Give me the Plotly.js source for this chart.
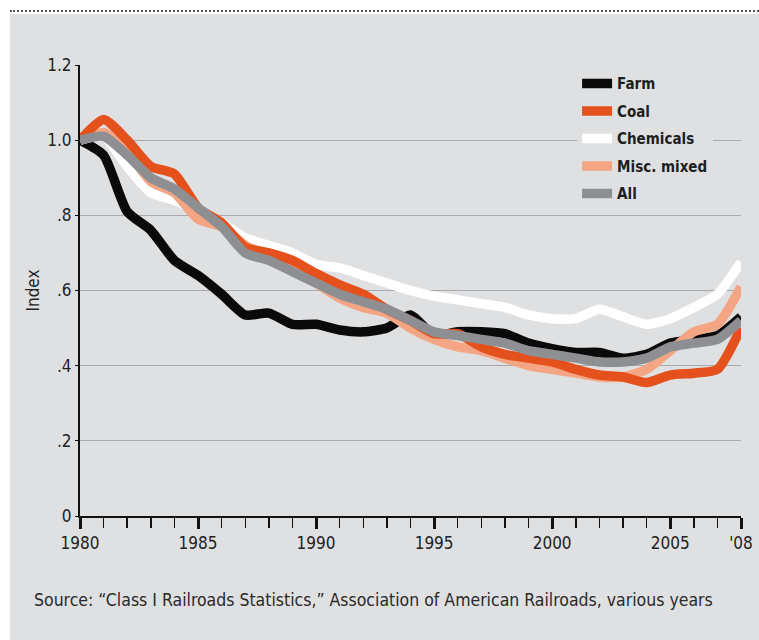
<!DOCTYPE html>
<html>
<head>
<meta charset="utf-8">
<script src="https://cdn.plot.ly/plotly-3.0.1.min.js"></script>
<style>
  html, body { margin: 0; padding: 0; background: #ffffff; }
  #wrap { position: relative; width: 759px; height: 640px; overflow: hidden; }
  #bg { position: absolute; left: 10px; top: 14px; width: 749px; height: 626px; background: #dfe0e2; }
  #dots { position: absolute; left: 10px; top: 10px; width: 749px; height: 0; border-top: 2px dotted #555; }
  #chart { position: absolute; left: 0; top: 0; width: 759px; height: 640px; }
  #chart text { font-stretch: condensed !important; }
</style>
</head>
<body>
<div id="wrap">
  <div id="bg"></div>
  <div id="dots"></div>
  <div id="chart"></div>
</div>
<script>
const years = [1980,1981,1982,1983,1984,1985,1986,1987,1988,1989,1990,1991,1992,1993,1994,1995,1996,1997,1998,1999,2000,2001,2002,2003,2004,2005,2006,2007,2008];
const farm = [1.00,0.96,0.81,0.76,0.68,0.64,0.59,0.535,0.54,0.51,0.51,0.495,0.49,0.50,0.535,0.48,0.49,0.49,0.485,0.46,0.445,0.435,0.435,0.42,0.43,0.46,0.47,0.48,0.53];
const coal = [1.00,1.055,1.00,0.93,0.91,0.82,0.78,0.715,0.70,0.68,0.645,0.615,0.59,0.55,0.52,0.485,0.485,0.45,0.43,0.42,0.41,0.39,0.375,0.37,0.355,0.375,0.38,0.39,0.50];
const chemicals = [1.00,1.01,0.93,0.86,0.84,0.81,0.78,0.74,0.72,0.70,0.67,0.66,0.64,0.62,0.60,0.585,0.575,0.565,0.555,0.535,0.525,0.525,0.55,0.53,0.51,0.525,0.555,0.59,0.675];
const misc = [1.00,1.02,0.97,0.89,0.86,0.79,0.77,0.72,0.69,0.66,0.62,0.58,0.555,0.54,0.50,0.47,0.45,0.44,0.42,0.40,0.39,0.38,0.37,0.37,0.39,0.44,0.49,0.51,0.61];
const all = [1.00,1.01,0.96,0.90,0.87,0.82,0.77,0.70,0.68,0.65,0.62,0.59,0.57,0.55,0.52,0.49,0.48,0.47,0.46,0.44,0.43,0.42,0.41,0.41,0.42,0.45,0.46,0.47,0.52];

const seriesNames = ["Farm","Coal","Chemicals","Misc. mixed","All"];
const xTickVals = [1980,1985,1990,1995,2000,2005,2008];
const xTickText = ["1980","1985","1990","1995","2000","2005","'08"];
const yTickVals = [0,0.2,0.4,0.6,0.8,1.0,1.2];
const yTickText = ["0",".2",".4",".6",".8","1.0","1.2"];
const sourceText = "Source: \u201cClass I Railroads Statistics,\u201d Association of American Railroads, various years";

const cond = "'DejaVu Sans Condensed', 'Liberation Sans Narrow', 'DejaVu Sans', sans-serif";
const bg = "#dfe0e2";

function tr(y, name, color, rank) {
  return {
    x: years, y: y, name: name, type: 'scatter', mode: 'lines',
    line: {color: color, width: 9.5, shape: 'spline', smoothing: 0.6},
    legendrank: rank, legendgroup: name, hoverinfo: 'skip'
  };
}

const data = [
  tr(farm, seriesNames[0], '#0a0a0a', 1),
  tr(chemicals, seriesNames[2], '#ffffff', 3),
  tr(misc, seriesNames[3], '#f3a584', 4),
  tr(coal, seriesNames[1], '#e4511d', 2),
  tr(all, seriesNames[4], '#8d8f92', 5)
];

const layout = {
  width: 759, height: 640,
  margin: {l: 80, r: 18, t: 65, b: 124},
  paper_bgcolor: 'rgba(0,0,0,0)',
  plot_bgcolor: bg,
  showlegend: true,
  legend: {
    x: 0.752, y: 0.995, xanchor: 'left', yanchor: 'top',
    bgcolor: bg, borderwidth: 0,
    font: {family: cond, size: 15, color: '#1e1e1e', weight: 'bold'},
    tracegroupgap: 5, traceorder: 'grouped'
  },
  xaxis: {
    range: [1980, 2008], showgrid: false, zeroline: false,
    showline: true, linecolor: '#111', linewidth: 2,
    tickmode: 'array', tickvals: xTickVals, ticktext: xTickText,
    ticks: 'outside', ticklen: 11, tickwidth: 3, tickcolor: '#111',
    tickfont: {family: cond, size: 17, color: '#222'},
    minor: {tickmode: 'linear', tick0: 1980, dtick: 1, ticks: 'outside', ticklen: 10, tickwidth: 1.5, tickcolor: '#111', showgrid: false}
  },
  yaxis: {
    range: [0, 1.2], zeroline: false,
    showline: true, linecolor: '#111', linewidth: 2,
    showgrid: true, gridcolor: '#a8aaad', gridwidth: 1,
    tickmode: 'array', tickvals: yTickVals, ticktext: yTickText,
    ticks: 'outside', ticklen: 3, tickwidth: 1, tickcolor: '#111',
    tickfont: {family: cond, size: 17, color: '#222'},
    title: {text: 'Index', font: {family: cond, size: 17, color: '#222'}, standoff: 3}
  },
  annotations: [{
    text: sourceText, xref: 'paper', yref: 'paper',
    x: -0.073, y: -0.16, xanchor: 'left', yanchor: 'top', showarrow: false,
    font: {family: cond, size: 17.5, color: '#2a2a2a'}
  }]
};

Plotly.newPlot('chart', data, layout, {displayModeBar: false, staticPlot: true});
</script>
</body>
</html>
